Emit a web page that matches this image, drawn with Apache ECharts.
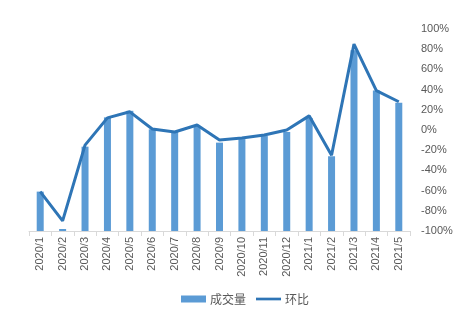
<!DOCTYPE html>
<html><head><meta charset="utf-8">
<script src="https://cdn.jsdelivr.net/npm/echarts@6/dist/echarts.min.js"></script>
<style>html,body{margin:0;padding:0;background:#fff}#c{width:476px;height:318px}</style>
</head><body><div id="c"></div>
<script>
var categories = ['2020/1','2020/2','2020/3','2020/4','2020/5','2020/6','2020/7','2020/8','2020/9','2020/10','2020/11','2020/12','2021/1','2021/2','2021/3','2021/4','2021/5'];
var volume = [39, 2, 83.5, 112.5, 119, 100.7, 98, 104, 87.5, 91, 94, 98, 112, 74, 179, 139, 127];
var mom = [-61, -90, -15, 12, 18, 1, -2, 5, -10, -8, -5, 0, 14, -25, 85, 39, 28];
var rightTicks = {min: -100, max: 100, interval: 20};

var chart = echarts.init(document.getElementById('c'));
chart.setOption({
  animation: false,
  textStyle: {fontFamily: 'Liberation Sans, Noto Sans CJK SC, sans-serif'},
  grid: {left: 29, right: 66, top: 29, bottom: 87},
  legend: {
    bottom: 8, left: 176, itemGap: 10, itemWidth: 25, itemHeight: 7,
    textStyle: {color: '#595959', fontSize: 12, fontFamily: 'Noto Sans CJK SC, sans-serif', padding: [0, 0, 0, -1]},
    data: [{name: '成交量', icon: 'rect'}, {name: '环比', icon: 'path://M0,0h28v3H0z'}]
  },
  xAxis: {
    type: 'category', data: categories,
    axisLine: {lineStyle: {color: '#d9d9d9'}},
    axisTick: {show: true, length: 5, lineStyle: {color: '#d9d9d9'}},
    axisLabel: {rotate: 90, color: '#595959', fontSize: 11, margin: 6, interval: 0}
  },
  yAxis: [
    {type: 'value', show: false, min: 0, max: 200, splitLine: {show: false}},
    {type: 'value', position: 'right', min: rightTicks.min, max: rightTicks.max, interval: rightTicks.interval,
     axisLine: {show: false}, axisTick: {show: false}, splitLine: {show: false},
     axisLabel: {color: '#595959', fontSize: 11, margin: 11, formatter: '{value}%'}}
  ],
  series: [
    {name: '成交量', type: 'bar', yAxisIndex: 0, data: volume, barWidth: 7,
     itemStyle: {color: '#5B9BD5'}},
    {name: '环比', type: 'line', yAxisIndex: 1, data: mom, showSymbol: false, symbol: 'none',
     lineStyle: {color: '#2E75B6', width: 3}, itemStyle: {color: '#2E75B6'}}
  ]
});
</script></body></html>
